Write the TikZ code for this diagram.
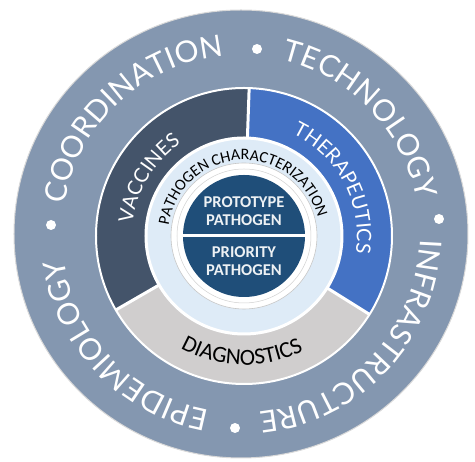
\documentclass[tikz,border=0pt]{standalone}
\usepackage{fontspec}
\setmainfont{Lato}
\newfontfamily\corefont{Carlito}
\usetikzlibrary{decorations.text}

\definecolor{outerring}{HTML}{8497B0}
\definecolor{vaccfill}{HTML}{44546A}
\definecolor{therfill}{HTML}{4472C4}
\definecolor{diagfill}{HTML}{D0CECE}
\definecolor{charfill}{HTML}{DEEBF7}
\definecolor{corefill}{HTML}{1F4E79}

\newcommand\bandfont{\fontsize{30}{30}\selectfont}
\newcommand\wedgefont{\fontsize{20}{20}\selectfont}
\newcommand\diagfont{\corefont\fontsize{23}{23}\selectfont}
\newcommand\charfont{\corefont\fontsize{16}{16}\selectfont}

\begin{document}
\begin{tikzpicture}[x=1pt, y=1pt,
    band text/.style={decorate, decoration={text along path, text align=center,
      text color=white, text={|\bandfont|#1}}},
    wedge text/.style={decorate, decoration={text along path, text align=center,
      text color=white, text={|\wedgefont|#1}}},
    diag text/.style={decorate, decoration={text along path, text align=center,
      text color=black, text={|\diagfont|#1}}},
    char text/.style={decorate, decoration={text along path, text align=center,
      text color=black, text={|\charfont|#1}}},
    core text/.style={align=center, text=white!92!corefill, inner sep=0pt,
      font=\corefont\bfseries\fontsize{16.5}{18}\selectfont},
    dot/.style={circle, fill=white, inner sep=0pt, minimum size=10pt}
  ]
\useasboundingbox (-244,-226) rectangle (231,236);
\coordinate (O) at (-3,2);

% outer band
\fill[outerring, draw=black!15, line width=1] (O) ellipse[x radius=227, y radius=224];

% three wedges, then the white seams
\fill[vaccfill] (0,0) -- (88:148) arc[start angle=88, end angle=210, radius=148] -- cycle;
\fill[therfill] (0,0) -- (-32:148) arc[start angle=-32, end angle=88, radius=148] -- cycle;
\fill[diagfill] (0,0) -- (210:148) arc[start angle=210, end angle=328, radius=148] -- cycle;
\draw[white, line width=2] (0,0) circle[radius=148];
\draw[white, line width=3] (0,0) -- (88:148);
\draw[white, line width=3] (0,0) -- (210:148);
\draw[white, line width=3] (0,0) -- (328:148);

% characterization ring and core
\fill[charfill, draw=white, line width=3] (0,0) circle[radius=98];
\fill[white, draw=black!22, line width=0.6] (0,0) circle[radius=73];
\draw[black!18, line width=0.5] (0,0) circle[radius=67];
\fill[corefill] (0,0) circle[radius=61];
\draw[white, line width=3] (-61,0) -- (61,0);
\node[core text] (proto) at (0,25) {PROTOTYPE\\PATHOGEN};
\node[core text] (prio) at (0,-25) {PRIORITY\\PATHOGEN};

% ring labels
\path[char text=PATHOGEN CHARACTERIZATION] (0,0) ++(188:76) arc[start angle=188, end angle=-2, radius=76];
\path[wedge text=VACCINES] (0,0) ++(199:112) arc[start angle=199, end angle=99, radius=112];
\path[wedge text=THERAPEUTICS] (0,0) ++(78:113) arc[start angle=78, end angle=-22, radius=113];
\path[diag text=DIAGNOSTICS] (0,0) ++(219:129) arc[start angle=219, end angle=319, radius=129];

% outer band labels
\path[band text=COORDINATION] (O) ++(200:179) arc[start angle=200, end angle=66, radius=179];
\path[band text=TECHNOLOGY] (O) ++(111:179) arc[start angle=111, end angle=-23, radius=179];
\path[band text=INFRASTRUCTURE] (O) ++(24:179) arc[start angle=24, end angle=-110, radius=179];
\path[band text=EPIDEMIOLOGY] (O) ++(-69:179) arc[start angle=-69, end angle=-203, radius=179];

\node[dot] (dtop) at (13,187) {};
\node[dot] (dright) at (195,17) {};
\node[dot] (dbottom) at (-9,-192) {};
\node[dot] (dleft) at (-193,11) {};
\end{tikzpicture}
\end{document}
